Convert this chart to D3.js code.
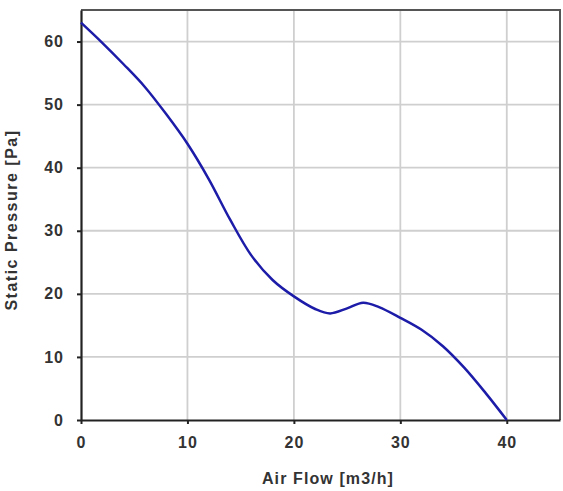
<!DOCTYPE html>
<html><head><meta charset="utf-8">
<script src="https://cdn.jsdelivr.net/npm/d3@7"></script>
<style>body{margin:0;background:#fff}svg{display:block}</style>
</head><body><svg id="c" width="563" height="491"></svg>
<script>
const flow = [0, 2, 4, 6, 8, 10, 12, 14, 16, 18, 20, 22, 23.4, 25, 26.5, 28, 30, 32, 34, 36, 38, 40];
const pressure = [63, 59.8, 56.4, 52.8, 48.5, 43.8, 38.2, 31.8, 26.1, 22.2, 19.6, 17.6, 16.9, 17.7, 18.6, 17.9, 16.2, 14.3, 11.7, 8.3, 4.3, 0];
const xTicks = [0, 10, 20, 30, 40];
const yTicks = [0, 10, 20, 30, 40, 50, 60];
const xLabel = "Air Flow [m3/h]";
const yLabel = "Static Pressure [Pa]";

const m = {l: 81, r: 560, t: 10, b: 420};
const svg = d3.select("#c");
const x = d3.scaleLinear().domain([0, 45]).range([m.l, m.r]);
const y = d3.scaleLinear().domain([0, 65]).range([m.b, m.t]);
const font = "Arial, 'Liberation Sans', sans-serif";

// grid
svg.append("g").selectAll("line").data(xTicks.filter(d => d > 0)).join("line")
  .attr("x1", d => x(d)).attr("x2", d => x(d)).attr("y1", m.t).attr("y2", m.b)
  .attr("stroke", "#cfcfcf").attr("stroke-width", 1.8);
svg.append("g").selectAll("line").data(yTicks.filter(d => d > 0)).join("line")
  .attr("y1", d => y(d)).attr("y2", d => y(d)).attr("x1", m.l).attr("x2", m.r)
  .attr("stroke", "#cfcfcf").attr("stroke-width", 1.8);

// frame top/right
svg.append("path").attr("d", `M${m.l},${m.t}H${m.r}V${m.b}`)
  .attr("fill", "none").attr("stroke", "#555").attr("stroke-width", 2);

// axes
const xa = svg.append("g").attr("transform", `translate(0,${m.b})`)
  .call(d3.axisBottom(x).tickValues(xTicks).tickSize(4).tickSizeOuter(0));
const ya = svg.append("g").attr("transform", `translate(${m.l},0)`)
  .call(d3.axisLeft(y).tickValues(yTicks).tickSize(4).tickPadding(13).tickSizeOuter(0));
[xa, ya].forEach(a => {
  a.select(".domain").attr("stroke", "#222").attr("stroke-width", 2.2);
  a.selectAll(".tick line").attr("stroke", "#222").attr("stroke-width", 2);
  a.selectAll("text").attr("font-family", font).attr("font-size", 16)
    .attr("font-weight", "bold").attr("fill", "#333").attr("letter-spacing", 1);
});
xa.selectAll("text").attr("y", 28).attr("dy", 0);

// line
const line = d3.line().x((d, i) => x(flow[i])).y(d => y(d)).curve(d3.curveCatmullRom.alpha(0.5));
svg.append("path").datum(pressure).attr("d", line)
  .attr("fill", "none").attr("stroke", "#1c1ca8").attr("stroke-width", 2.5);

// labels
svg.append("text").attr("x", 328).attr("y", 484).attr("text-anchor", "middle")
  .attr("font-family", font).attr("font-size", 16).attr("font-weight", "bold").attr("fill", "#333")
  .attr("letter-spacing", 1.1).text(xLabel);
svg.append("text").attr("transform", `translate(17,220) rotate(-90)`)
  .attr("text-anchor", "middle").attr("font-family", font).attr("font-size", 16)
  .attr("font-weight", "bold").attr("fill", "#333").attr("letter-spacing", 1.5).text(yLabel);
</script></body></html>
